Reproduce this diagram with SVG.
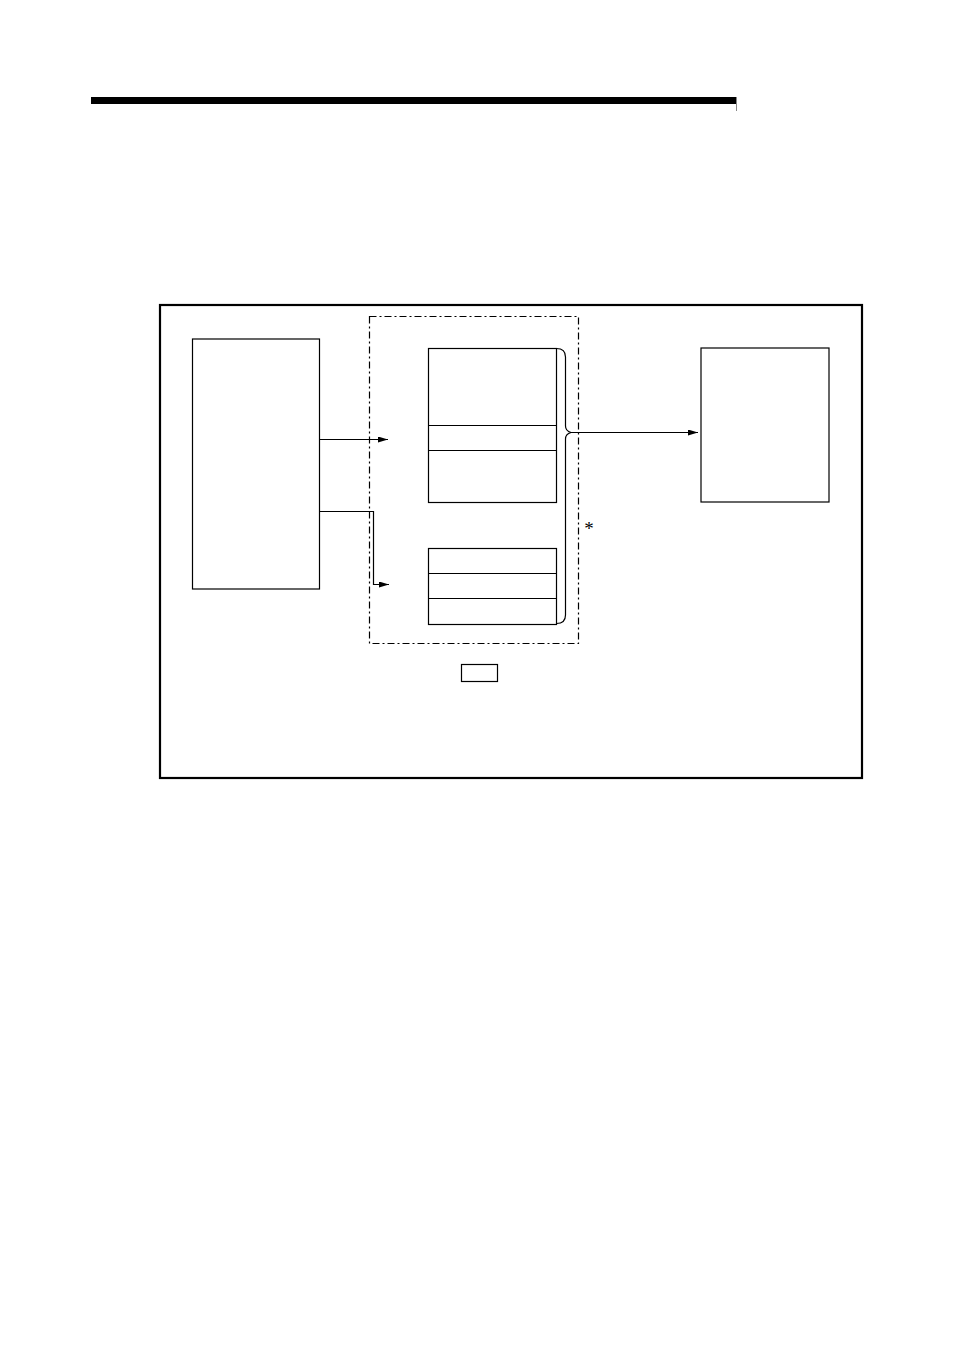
<svg xmlns="http://www.w3.org/2000/svg" width="954" height="1351" viewBox="0 0 954 1351">
<style>
.box{fill:#fff;stroke:#000;stroke-width:1.2}
.ln{fill:none;stroke:#000;stroke-width:1.2}
.dash{fill:none;stroke:#000;stroke-width:1.2;stroke-dasharray:7 3 2 3}
</style>
<defs>
<marker id="ah" markerWidth="10" markerHeight="6" refX="10" refY="3" orient="auto" markerUnits="userSpaceOnUse">
<path d="M0,0 L10,3 L0,6 Z" fill="#000"/>
</marker>
</defs>
<rect width="954" height="1351" fill="#fff"/>
<g id="header">
<rect x="91" y="97" width="645" height="7" fill="#000"/>
<line x1="736.5" y1="97" x2="736.5" y2="111" stroke="#888" stroke-width="1"/>
</g>
<g id="frame">
<rect x="160" y="305" width="702" height="473" fill="none" stroke="#000" stroke-width="2.2"/>
</g>
<g id="group-dashed">
<rect x="369.5" y="316.5" width="209" height="327" class="dash"/>
</g>
<g id="node-left">
<rect x="192.5" y="339" width="127" height="250" class="box"/>
</g>
<g id="node-upper-stack">
<rect x="428.5" y="348.5" width="128" height="154" class="box"/>
<line x1="428.5" y1="425.5" x2="556.5" y2="425.5" class="ln"/>
<line x1="428.5" y1="450.5" x2="556.5" y2="450.5" class="ln"/>
</g>
<g id="node-lower-stack">
<rect x="428.5" y="548.5" width="128" height="76" class="box"/>
<line x1="428.5" y1="573.5" x2="556.5" y2="573.5" class="ln"/>
<line x1="428.5" y1="598.5" x2="556.5" y2="598.5" class="ln"/>
</g>
<g id="node-right">
<rect x="701" y="348" width="128" height="154" class="box"/>
</g>
<g id="brace">
<path d="M556.5,348.5 Q565.5,348.5 565.5,357 L565.5,426 Q565.5,431 571,432.5 Q565.5,434 565.5,439 L565.5,615 Q565.5,623.5 556.5,623.5" class="ln"/>
<text x="589" y="535" font-family="Liberation Serif, serif" font-size="19" fill="#000" text-anchor="middle">*</text>
</g>
<g id="small-box">
<rect x="461.5" y="664.5" width="36" height="17" class="box"/>
</g>
<g id="connectors">
<line x1="319.5" y1="439.5" x2="388" y2="439.5" class="ln" marker-end="url(#ah)"/>
<polyline points="319.5,511.5 373.5,511.5 373.5,584.5 389,584.5" class="ln" marker-end="url(#ah)"/>
<line x1="571" y1="432.5" x2="698" y2="432.5" class="ln" marker-end="url(#ah)"/>
</g>
</svg>
